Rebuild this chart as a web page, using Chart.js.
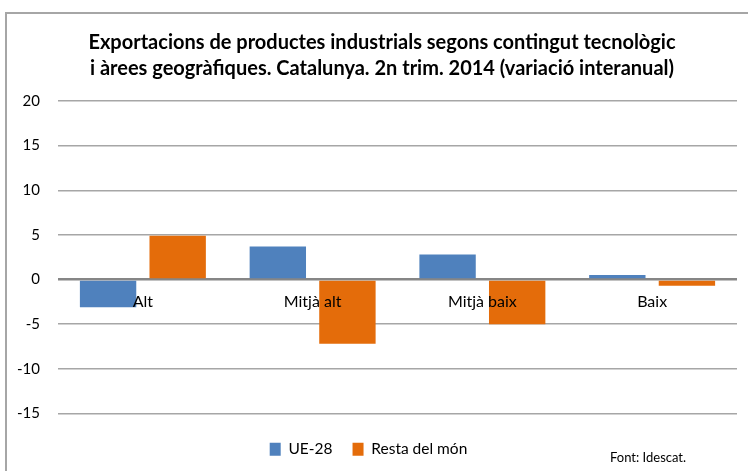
<!DOCTYPE html>
<html>
<head>
<meta charset="utf-8">
<script src="https://cdn.jsdelivr.net/npm/chart.js@4.4.0/dist/chart.umd.min.js"></script>
<style>
  html, body { margin: 0; padding: 0; background: #fff; }
  body { width: 748px; height: 471px; position: relative; overflow: hidden; }
  #frame { position: absolute; left: 5px; top: 12px; width: 800px; height: 500px;
           border-left: 2px solid #a6a6a6; border-top: 2px solid #a6a6a6; box-sizing: border-box; }
  #wrap { position: absolute; left: 0; top: 0; width: 748px; height: 471px; }
  #title { position: absolute; left: 82px; width: 600px; top: 28px; text-align: center;
           font-family: Lato, "Open Sans", sans-serif; font-weight: bold; font-size: 20px;
           line-height: 26px; color: #000; white-space: nowrap; }
  #source { position: absolute; left: 610px; top: 449px; font-family: Lato, "Open Sans", sans-serif;
            font-size: 13px; color: #000; }
</style>
</head>
<body>
<div id="frame"></div>
<div id="wrap"><canvas id="c" width="748" height="471"></canvas></div>
<div id="title"></div>
<div id="source">Font: Idescat.</div>
<script>
const categories = ["Alt", "Mitjà alt", "Mitjà baix", "Baix"];
const ue28 = [-3.1, 3.7, 2.8, 0.5];
const restaDelMon = [4.9, -7.2, -5.0, -0.7];
const seriesNames = ["UE-28", "Resta del món"];
const yTicks = [20, 15, 10, 5, 0, -5, -10, -15];
const titleLines = ["Exportacions de productes industrials segons contingut tecnològic",
                    "i àrees geogràfiques. Catalunya. 2n trim. 2014 (variació interanual)"];

document.getElementById('title').innerHTML = titleLines.join('<br>');

const FONT = "Lato, 'Open Sans', sans-serif";

new Chart(document.getElementById('c'), {
  type: 'bar',
  data: {
    labels: categories,
    datasets: [
      { label: seriesNames[0], data: ue28, backgroundColor: '#4F81BD', borderWidth: 0 },
      { label: seriesNames[1], data: restaDelMon, backgroundColor: '#E46C0A', borderWidth: 0 }
    ]
  },
  options: {
    responsive: false,
    animation: false,
    devicePixelRatio: 1,
    categoryPercentage: 0.82,
    barPercentage: 0.81,
    layout: { padding: { left: 0, right: 11, top: 101, bottom: 4 } },
    plugins: {
      title: { display: false },
      legend: {
        position: 'bottom',
        labels: {
          color: '#000',
          font: { family: FONT, size: 15.5 },
          boxWidth: 11, boxHeight: 13,
          padding: 20
        }
      },
      tooltip: { enabled: false }
    },
    scales: {
      x: {
        position: { y: 0 },
        grid: { display: false },
        border: { display: false },
        ticks: { z: 1, color: '#000', font: { family: FONT, size: 16 }, padding: 5, maxRotation: 0, autoSkip: false }
      },
      spacer: {
        type: 'category',
        axis: 'x',
        position: 'bottom',
        grid: { display: false },
        border: { display: false },
        ticks: { display: false },
        afterFit: (s) => { s.height = 8; }
      },
      y: {
        min: -15, max: 20,
        afterFit: (s) => { s.width = 58; },
        afterBuildTicks: (s) => { s.ticks = yTicks.map(v => ({ value: v })); },
        grid: {
          drawTicks: false,
          color: (ctx) => ctx.tick && ctx.tick.value === 0 ? '#868686' : '#a6a6a6',
          lineWidth: (ctx) => ctx.tick && ctx.tick.value === 0 ? 2.5 : 1.5
        },
        border: { display: false },
        ticks: { color: '#000', font: { family: FONT, size: 15 }, padding: 18 }
      }
    }
  }
});
</script>
</body>
</html>
